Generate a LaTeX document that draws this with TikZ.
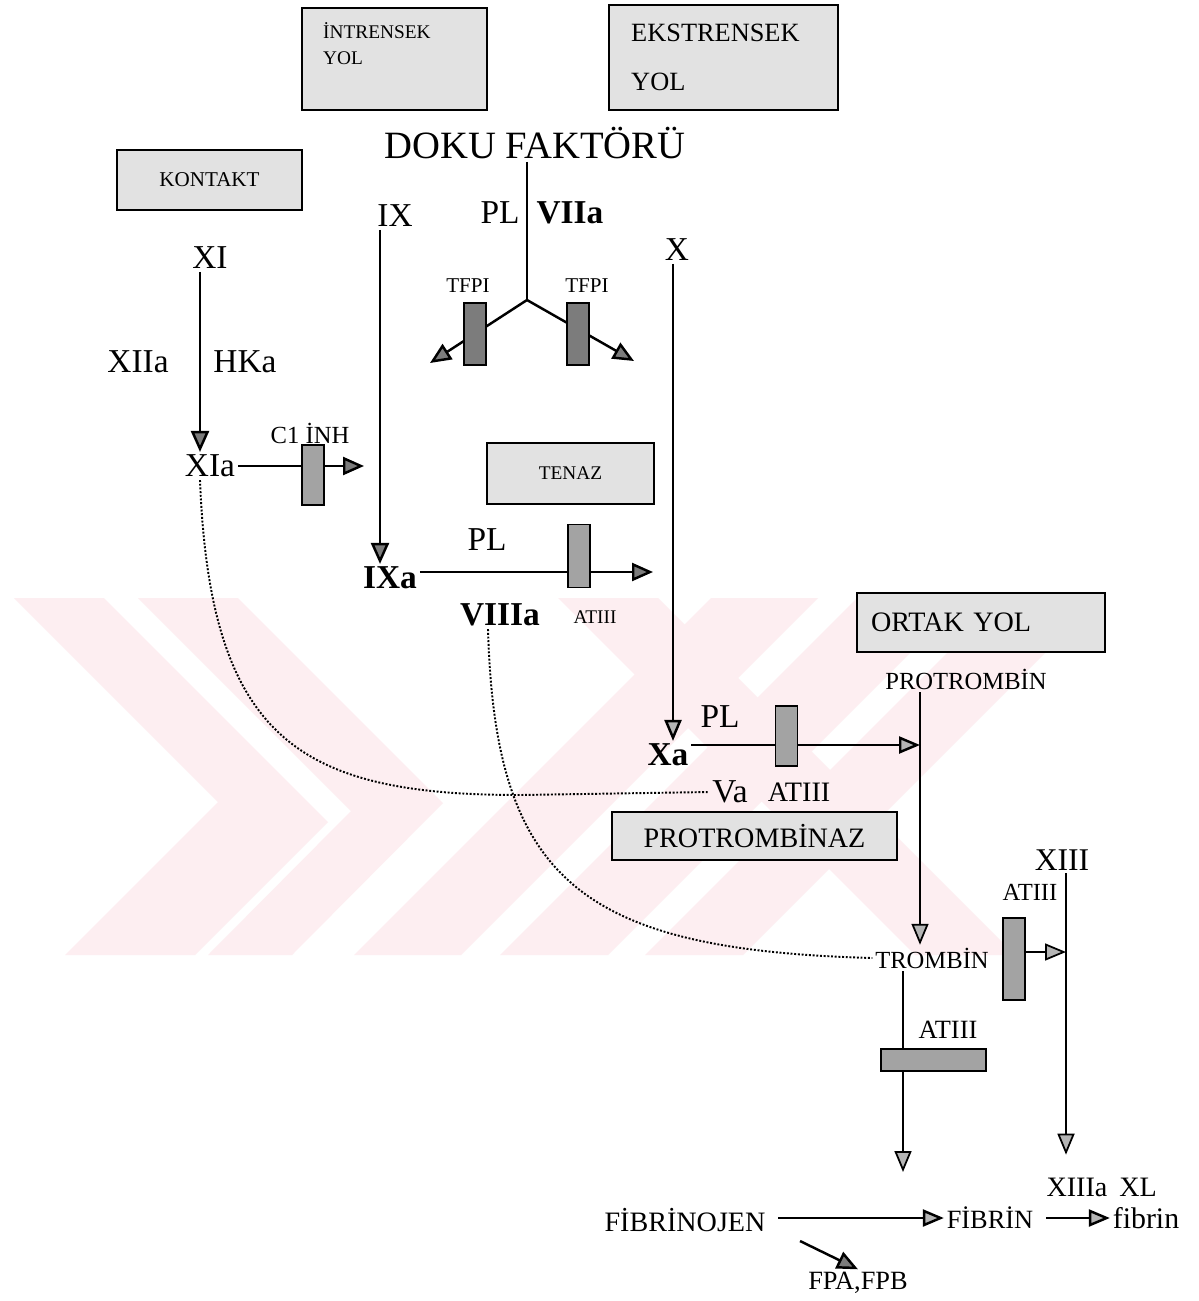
\documentclass[tikz,border=0pt]{standalone}
\usepackage{fontspec}
\setmainfont{Liberation Serif}
\usetikzlibrary{positioning,arrows.meta}
\definecolor{BoxGray}{HTML}{E2E2E2}
\definecolor{BarGray}{HTML}{A3A3A3}
\definecolor{BarDark}{HTML}{7C7C7C}
\definecolor{TipLight}{HTML}{B5B5B5}
\definecolor{MarkPink}{HTML}{FDEEF1}

\begin{document}
\begin{tikzpicture}[x=0.02cm,y=-0.02cm,line width=1.4pt,
    >={Triangle[length=0.42cm,width=0.36cm,fill=BarDark]}]
      \tikzstyle{lbl}=[font=\fontsize{19}{22}\selectfont,inner sep=1pt]
      \tikzstyle{lblb}=[inner sep=1pt,font=\fontsize{19}{22}\selectfont\bfseries]
      \tikzstyle{mid}=[inner sep=1pt,font=\fontsize{15}{18}\selectfont]
      \tikzstyle{sml}=[inner sep=1pt,font=\fontsize{12}{14}\selectfont]
      \tikzstyle{box}=[draw,line width=1pt,fill=BoxGray,inner sep=2pt]
      \tikzstyle{bar}=[draw,line width=0.6pt,fill=BarGray,inner sep=0pt,minimum width=0.44cm]
      \tikzstyle{lite}=[-{Triangle[length=0.42cm,width=0.34cm,fill=TipLight]}]
      \tikzstyle{dots}=[densely dotted,line width=1.1pt]
      \useasboundingbox (0,0) rectangle (1199,1301);
      \fill[white] (0,0) rectangle (1199,1301);
      \begin{scope}
        \clip (0,598) rectangle (1199,955);
        \fill[MarkPink] (14,598) -- (104,598) -- (328,822) -- (195,955) -- (65,955) -- (218,802) -- cycle;
        \fill[MarkPink] (138,598) -- (238,598) -- (443,803) -- (292,955) -- (208,955) -- (351,811) -- cycle;
        \fill[MarkPink] (558,598) -- (658,598) -- (1015,955) -- (915,955) -- cycle;
        \fill[MarkPink] (711,598) -- (818,598) -- (461,955) -- (354,955) -- cycle;
        \fill[MarkPink] (857,598) -- (965,598) -- (608,955) -- (500,955) -- cycle;
        \fill[MarkPink] (1002,598) -- (1100,598) -- (743,955) -- (645,955) -- cycle;
      \end{scope}

      \node[box,minimum width=3.7cm,minimum height=2.04cm] (intr) at (394.5,59) {};
      \node[inner sep=0pt,anchor=north west,align=left,font=\fontsize{11}{15}\selectfont] (intrtxt) at (322,21) {İNTRENSEK\\YOL};
      \node[box,minimum width=4.58cm,minimum height=2.1cm] (ekst) at (723.5,57.5) {};
      \node[inner sep=0pt,anchor=north west,align=left,font=\fontsize{15}{28}\selectfont] (eksttxt) at (630,23) {EKSTRENSEK\\YOL};
      \node[box,minimum width=3.7cm,minimum height=1.2cm,font=\fontsize{12}{14}\selectfont] (kont) at (209.5,180) {KONTAKT};
      \node[box,minimum width=3.34cm,minimum height=1.22cm,font=\fontsize{11}{13}\selectfont] (tenaz) at (570.5,473.5) {TENAZ};
      \node[box,minimum width=4.96cm,minimum height=1.18cm,text width=4.4cm,align=left,font=\fontsize{16}{18}\selectfont] (ortak) at (981,622.5) {ORTAK YOL};
      \node[box,minimum width=5.7cm,minimum height=0.96cm,font=\fontsize{16}{18}\selectfont] (ptnz) at (754.5,836) {PROTROMBİNAZ};

      \node[inner sep=1pt,font=\fontsize{22}{26}\selectfont] (dfk) at (535,143) {DOKU FAKTÖRÜ};
      \node[lbl] (ix) at (395,216) {IX};
      \node[lbl] (pl1) at (500,213) {PL};
      \node[lblb] (viia) at (570,213) {VIIa};
      \node[sml] (tfpi1) at (468,286) {TFPI};
      \node[sml] (tfpi2) at (587,286) {TFPI};
      \node[lbl] (x) at (677,250) {X};
      \node[lbl] (xi) at (210,258) {XI};
      \node[lbl] (xiia) at (138,362) {XIIa};
      \node[lbl] (hka) at (245,362) {HKa};
      \node[lbl] (xia) at (210,466) {XIa};
      \node[sml,font=\fontsize{14}{16}\selectfont] (c1) at (310,433) {C1 İNH};
      \node[lblb] (ixa) at (390,578) {IXa};
      \node[lbl] (pl2) at (487,540) {PL};
      \node[lblb] (viiia) at (500,615) {VIIIa};
      \node[sml,font=\fontsize{11}{13}\selectfont] (at1) at (595,617) {ATIII};
      \node[lblb] (xa) at (668,755) {Xa};
      \node[lbl] (pl3) at (720,717) {PL};
      \node[lbl] (va) at (730,792) {Va};
      \node[mid,font=\fontsize{16}{18}\selectfont] (at2) at (799,792) {ATIII};
      \node[mid,font=\fontsize{14}{16}\selectfont] (ptr) at (966,679) {PROTROMBİN};
      \node[mid,font=\fontsize{14}{16}\selectfont] (tr) at (932,958) {TROMBİN};
      \node[lbl,font=\fontsize{18}{20}\selectfont] (xiii) at (1062,860) {XIII};
      \node[mid,font=\fontsize{14}{16}\selectfont] (at3) at (1030,892) {ATIII};
      \node[mid] (at4) at (948,1030) {ATIII};
      \node[mid,font=\fontsize{16}{18}\selectfont] (fbn) at (685,1220) {FİBRİNOJEN};
      \node[mid] (fb) at (990,1218) {FİBRİN};
      \node[mid,font=\fontsize{16}{18}\selectfont] (xiiia) at (1077,1187) {XIIIa};
      \node[mid,font=\fontsize{16}{18}\selectfont] (xl) at (1138,1187) {XL};
      \node[mid,font=\fontsize{17}{19}\selectfont] (xlf) at (1146,1218) {fibrin};
      \node[mid] (fpa) at (858,1283) {FPA,FPB};

      \coordinate (split) at (527,300);
      \coordinate (tfpLend) at (430,363);
      \coordinate (tfpRend) at (634,361);
      \coordinate (c1end) at (364,466);
      \coordinate (tnzend) at (653,572);
      \coordinate (ptrjoin) at (920,745);
      \coordinate (xiiijoin) at (1066,952);
      \coordinate (fbtop) at (903,1172);
      \coordinate (fpstart) at (800,1241);

      \draw (527,0 |- dfk.south) -- (split);
      \draw[->] (split) -- (tfpLend);
      \draw[->] (split) -- (tfpRend);
      \draw[->] (200,0 |- xi.south) -- (200,0 |- xia.north);
      \draw[->] (xia.east) -- (c1end);
      \draw[->] (380,0 |- ix.south) -- (380,0 |- ixa.north);
      \draw[->] (ixa.east |- tnzend) -- (tnzend);
      \draw[lite] (673,0 |- x.south) -- (673,0 |- xa.north);
      \draw[lite] (xa.east |- ptrjoin) -- (ptrjoin);
      \draw[line width=1pt,lite] (920,0 |- ptr.south) -- (920,0 |- tr.north);
      \draw[line width=1pt,lite,shorten >=0.4cm] (1066,0 |- xiii.south) -- (1066,0 |- xiiia.north);
      \draw[line width=1pt,lite] (903,0 |- tr.south) -- (fbtop);
      \draw[lite,shorten <=0.2cm] (fbn.east |- fb.west) -- (fb.west);
      \draw[lite,shorten <=0.2cm] (fb.east) -- (xlf.west);
      \draw[->] (fpstart) -- (fpa.north);
      \draw[dots] (200,0 |- xia.south) .. controls (210,740) and (300,795) .. (520,795) -- (va.west);
      \draw[dots] (488,0 |- viiia.south) .. controls (495,880) and (580,950) .. (tr.west);

      \node[bar,fill=BarDark,minimum height=1.24cm] (tfpibarL) at (475,334) {};
      \node[bar,fill=BarDark,minimum height=1.24cm] (tfpibarR) at (578,334) {};
      \node[bar,minimum height=1.2cm] (c1bar) at (313,475) {};
      \node[bar,minimum height=1.26cm] (tnzbar) at (579,556) {};
      \node[bar,minimum height=1.2cm] (xabar) at (786.5,736) {};
      \node[bar,minimum height=1.64cm] (trbar) at (1014,959) {};
      \node[bar,minimum width=2.1cm,minimum height=0.44cm] (fbbar) at (933.5,1060) {};
      \draw[line width=1pt,lite] (trbar.east |- xiiijoin) -- (xiiijoin);
\end{tikzpicture}
\end{document}
